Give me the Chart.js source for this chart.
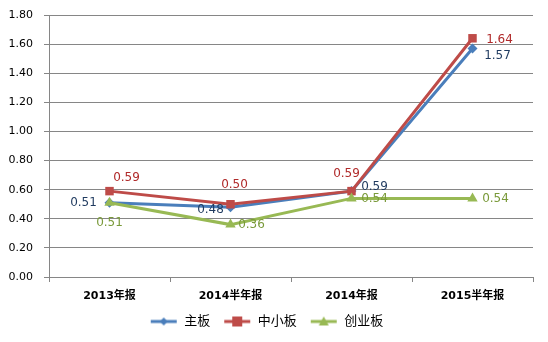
<!DOCTYPE html>
<html>
<head>
<meta charset="utf-8">
<script src="https://cdn.jsdelivr.net/npm/chart.js@4/dist/chart.umd.min.js"></script>
<style>
  html, body { margin: 0; padding: 0; background: #fff; }
  #wrap { width: 548px; height: 342px; }
</style>
</head>
<body>
<div id="wrap"><canvas id="c" width="548" height="342"></canvas></div>
<script>
const categories = ["2013年报", "2014半年报", "2014年报", "2015半年报"];
const mainBoard = [0.51, 0.48, 0.59, 1.57];
const smeBoard = [0.59, 0.50, 0.59, 1.64];
const gemBoard = [0.51, 0.36, 0.54, 0.54];
const seriesNames = ["主板", "中小板", "创业板"];

const FONT = "'DejaVu Sans', 'Noto Sans CJK SC', sans-serif";

// label offsets from the point, per series/point
const labelOffsets = [
  [[-26, 0], [-20, 3], [23, -4], [25, 7]],
  [[17, -13], [4, -19], [-5, -17], [27, 2]],
  [[0, 20], [21, 0], [23, 0], [23, 0]]
];
const labelColors = ["#1F3A5F", "#B02A2A", "#7A9A3A"];

function legendIcon(color, style) {
  const cv = document.createElement("canvas");
  cv.width = 28; cv.height = 12;
  const ctx = cv.getContext("2d");
  ctx.strokeStyle = color;
  ctx.lineWidth = 3;
  ctx.beginPath();
  ctx.moveTo(1, 6); ctx.lineTo(27, 6);
  ctx.stroke();
  ctx.fillStyle = color;
  ctx.beginPath();
  if (style === "rect") {
    ctx.rect(9, 1, 10, 10);
  } else if (style === "rectRot") {
    ctx.moveTo(14, 2); ctx.lineTo(18, 6); ctx.lineTo(14, 10); ctx.lineTo(10, 6);
  } else {
    ctx.moveTo(14, 1); ctx.lineTo(19, 10); ctx.lineTo(9, 10);
  }
  ctx.fill();
  return cv;
}

const pointLabels = {
  id: "pointLabels",
  afterDatasetsDraw(chart) {
    const ctx = chart.ctx;
    ctx.save();
    ctx.font = "12px " + FONT;
    ctx.textAlign = "center";
    ctx.textBaseline = "middle";
    chart.data.datasets.forEach((ds, i) => {
      const meta = chart.getDatasetMeta(i);
      meta.data.forEach((pt, j) => {
        const [dx, dy] = labelOffsets[i][j];
        ctx.fillStyle = labelColors[i];
        ctx.fillText(ds.data[j].toFixed(2), pt.x + dx, pt.y + dy);
      });
    });
    ctx.restore();
  }
};

const colors = ["#4A7EBB", "#BE4B48", "#98B954"];
const styles = ["rectRot", "rect", "triangle"];
const radii = [5, 6, 6];
const dataSets = [mainBoard, smeBoard, gemBoard];

new Chart(document.getElementById("c"), {
  type: "line",
  data: {
    labels: categories,
    datasets: dataSets.map((d, i) => ({
      label: seriesNames[i],
      data: d,
      order: 3 - i,
      borderColor: colors[i],
      backgroundColor: colors[i],
      borderWidth: 3,
      pointStyle: styles[i],
      pointRadius: radii[i],
      pointBorderWidth: 0,
      tension: 0
    }))
  },
  options: {
    responsive: false,
    animation: false,
    layout: { padding: { top: 15, right: 15, left: 0, bottom: 4 } },
    plugins: {
      tooltip: { enabled: false },
      legend: {
        position: "bottom",
        labels: {
          color: "#000",
          font: { family: FONT, size: 13 },
          usePointStyle: true,
          pointStyleWidth: 28,
          boxHeight: 12,
          padding: 13,
          generateLabels: (chart) => seriesNames.map((n, i) => ({
            text: n,
            pointStyle: legendIcon(colors[i], styles[i]),
            fillStyle: colors[i],
            strokeStyle: colors[i],
            lineWidth: 0,
            hidden: false,
            datasetIndex: i
          }))
        }
      }
    },
    scales: {
      x: {
        offset: true,
        grid: { offset: true, drawOnChartArea: false, drawTicks: true, tickLength: 5, color: "#868686" },
        border: { color: "#868686", width: 1 },
        ticks: { color: "#000", font: { family: FONT, size: 11, weight: "bold" }, padding: 8 },
        afterFit: (s) => { s.height = 25; }
      },
      y: {
        min: 0,
        max: 1.8,
        grid: { color: "#868686", tickLength: 5, drawTicks: true },
        border: { color: "#868686", width: 1 },
        ticks: {
          stepSize: 0.2,
          color: "#000",
          font: { family: FONT, size: 11 },
          padding: 11,
          callback: (v) => Number(v).toFixed(2)
        },
        afterFit: (s) => { s.width = 49; s.paddingTop = 0; s.paddingBottom = 0; }
      }
    }
  },
  plugins: [pointLabels]
});
</script>
</body>
</html>
